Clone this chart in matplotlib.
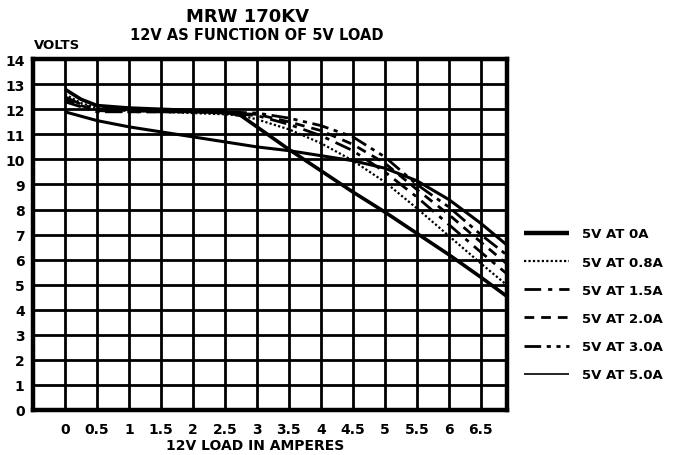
import matplotlib
matplotlib.use("Agg")
import matplotlib.pyplot as plt

plt.rcParams['font.family'] = ['DejaVu Sans']
plt.rcParams['font.weight'] = 'bold'

# ---- data (12V load in amperes -> 12V output volts) ----
x_0A = [0, 0.25, 0.5, 1, 1.5, 2, 2.5, 2.75, 3, 3.5, 4, 4.5, 5, 5.5, 6, 6.5, 6.9]
y_0A = [12.8, 12.4, 12.15, 12.05, 12.0, 11.95, 11.9, 11.75, 11.3, 10.4, 9.55, 8.7, 7.9, 7.05, 6.2, 5.3, 4.55]

x_08A = [0, 0.25, 0.5, 1, 1.5, 2, 2.5, 2.75, 3, 3.5, 4, 4.5, 5, 5.5, 6, 6.5, 6.9]
y_08A = [12.6, 12.25, 12.05, 11.95, 11.9, 11.85, 11.8, 11.75, 11.6, 11.2, 10.65, 9.95, 9.1, 8.05, 6.95, 5.85, 5.0]

x_15A = [0, 0.25, 0.5, 1, 1.5, 2, 2.5, 3, 3.5, 4, 4.5, 5, 5.5, 6, 6.5, 6.9]
y_15A = [12.5, 12.2, 12.0, 11.95, 11.9, 11.9, 11.85, 11.75, 11.4, 10.95, 10.35, 9.5, 8.5, 7.4, 6.3, 5.45]

x_20A = [0, 0.25, 0.5, 1, 1.5, 2, 2.5, 3, 3.5, 4, 4.5, 5, 5.5, 6, 6.5, 6.9]
y_20A = [12.4, 12.15, 11.95, 11.9, 11.9, 11.9, 11.85, 11.8, 11.5, 11.15, 10.6, 9.85, 8.8, 7.8, 6.7, 5.85]

x_30A = [0, 0.25, 0.5, 1, 1.5, 2, 2.5, 3, 3.5, 4, 4.5, 5, 5.5, 6, 6.5, 6.9]
y_30A = [12.3, 12.1, 11.9, 11.9, 11.9, 11.9, 11.9, 11.85, 11.65, 11.35, 10.9, 10.1, 9.0, 8.1, 7.0, 6.2]

x_50A = [0, 0.5, 1, 1.5, 2, 2.5, 3, 3.5, 4, 4.5, 5, 5.5, 6, 6.5, 6.9]
y_50A = [11.9, 11.55, 11.3, 11.1, 10.9, 10.7, 10.5, 10.35, 10.15, 9.95, 9.65, 9.15, 8.4, 7.45, 6.6]

labels = ["5V AT 0A", "5V AT 0.8A", "5V AT 1.5A", "5V AT 2.0A", "5V AT 3.0A", "5V AT 5.0A"]
x_ticks = [0, 0.5, 1, 1.5, 2, 2.5, 3, 3.5, 4, 4.5, 5, 5.5, 6, 6.5]
x_ticklabels = ["0", "0.5", "1", "1.5", "2", "2.5", "3", "3.5", "4", "4.5", "5", "5.5", "6", "6.5"]
y_ticks = list(range(0, 15))

# ---- figure ----
fig = plt.figure(figsize=(6.83, 4.56), dpi=100)
ax = fig.add_axes([0.0483, 0.0987, 0.6937, 0.7693])
ax.set_xlim(-0.5, 6.906)
ax.set_ylim(0, 14)

ax.set_xticks(x_ticks)
ax.set_xticklabels(x_ticklabels)
ax.set_yticks(y_ticks)
ax.grid(True, color='black', linewidth=2.0)
ax.set_axisbelow(True)
ax.tick_params(length=0, labelsize=10)
ax.tick_params(axis='x', pad=9)
ax.tick_params(axis='y', pad=6)
for lab in ax.get_xticklabels() + ax.get_yticklabels():
    lab.set_fontweight('bold')
for s in ax.spines.values():
    s.set_linewidth(3.2)
    s.set_color('black')

series = [
    (x_0A, y_0A, dict(linestyle='-', linewidth=2.6)),
    (x_08A, y_08A, dict(linestyle=(0, (1, 1)), linewidth=1.6)),
    (x_15A, y_15A, dict(linestyle=(0, (6, 2.5, 1.5, 2.5)), linewidth=2.0)),
    (x_20A, y_20A, dict(linestyle=(0, (3.5, 2.5)), linewidth=2.0)),
    (x_30A, y_30A, dict(linestyle=(0, (6, 2, 1.5, 2, 1.5, 2)), linewidth=2.0)),
    (x_50A, y_50A, dict(linestyle='-', linewidth=2.2)),
]
handles = []
for (xs, ys, st), lab in zip(series, labels):
    h, = ax.plot(xs, ys, color='black', label=lab, solid_capstyle='butt', **st)
    handles.append(h)

leg = fig.legend(handles=handles, labels=labels, loc='upper left',
                 bbox_to_anchor=(0.750, 0.525), frameon=False,
                 prop=dict(weight='bold', size=9.5), handlelength=3.4,
                 handletextpad=1.0, labelspacing=1.15)
leg.get_lines()[0].set_linewidth(3.2)
leg.get_lines()[5].set_linewidth(1.2)

fig.text(0.363, 0.963, "MRW 170KV", ha='center', va='center', fontsize=13, fontweight='bold')
fig.text(0.376, 0.922, "12V AS FUNCTION OF 5V LOAD", ha='center', va='center', fontsize=10.5, fontweight='bold')
fig.text(0.083, 0.900, "VOLTS", ha='center', va='center', fontsize=9.5, fontweight='bold')
fig.text(0.373, 0.022, "12V LOAD IN AMPERES", ha='center', va='center', fontsize=10, fontweight='bold')

fig.savefig("out.png", dpi=100)
